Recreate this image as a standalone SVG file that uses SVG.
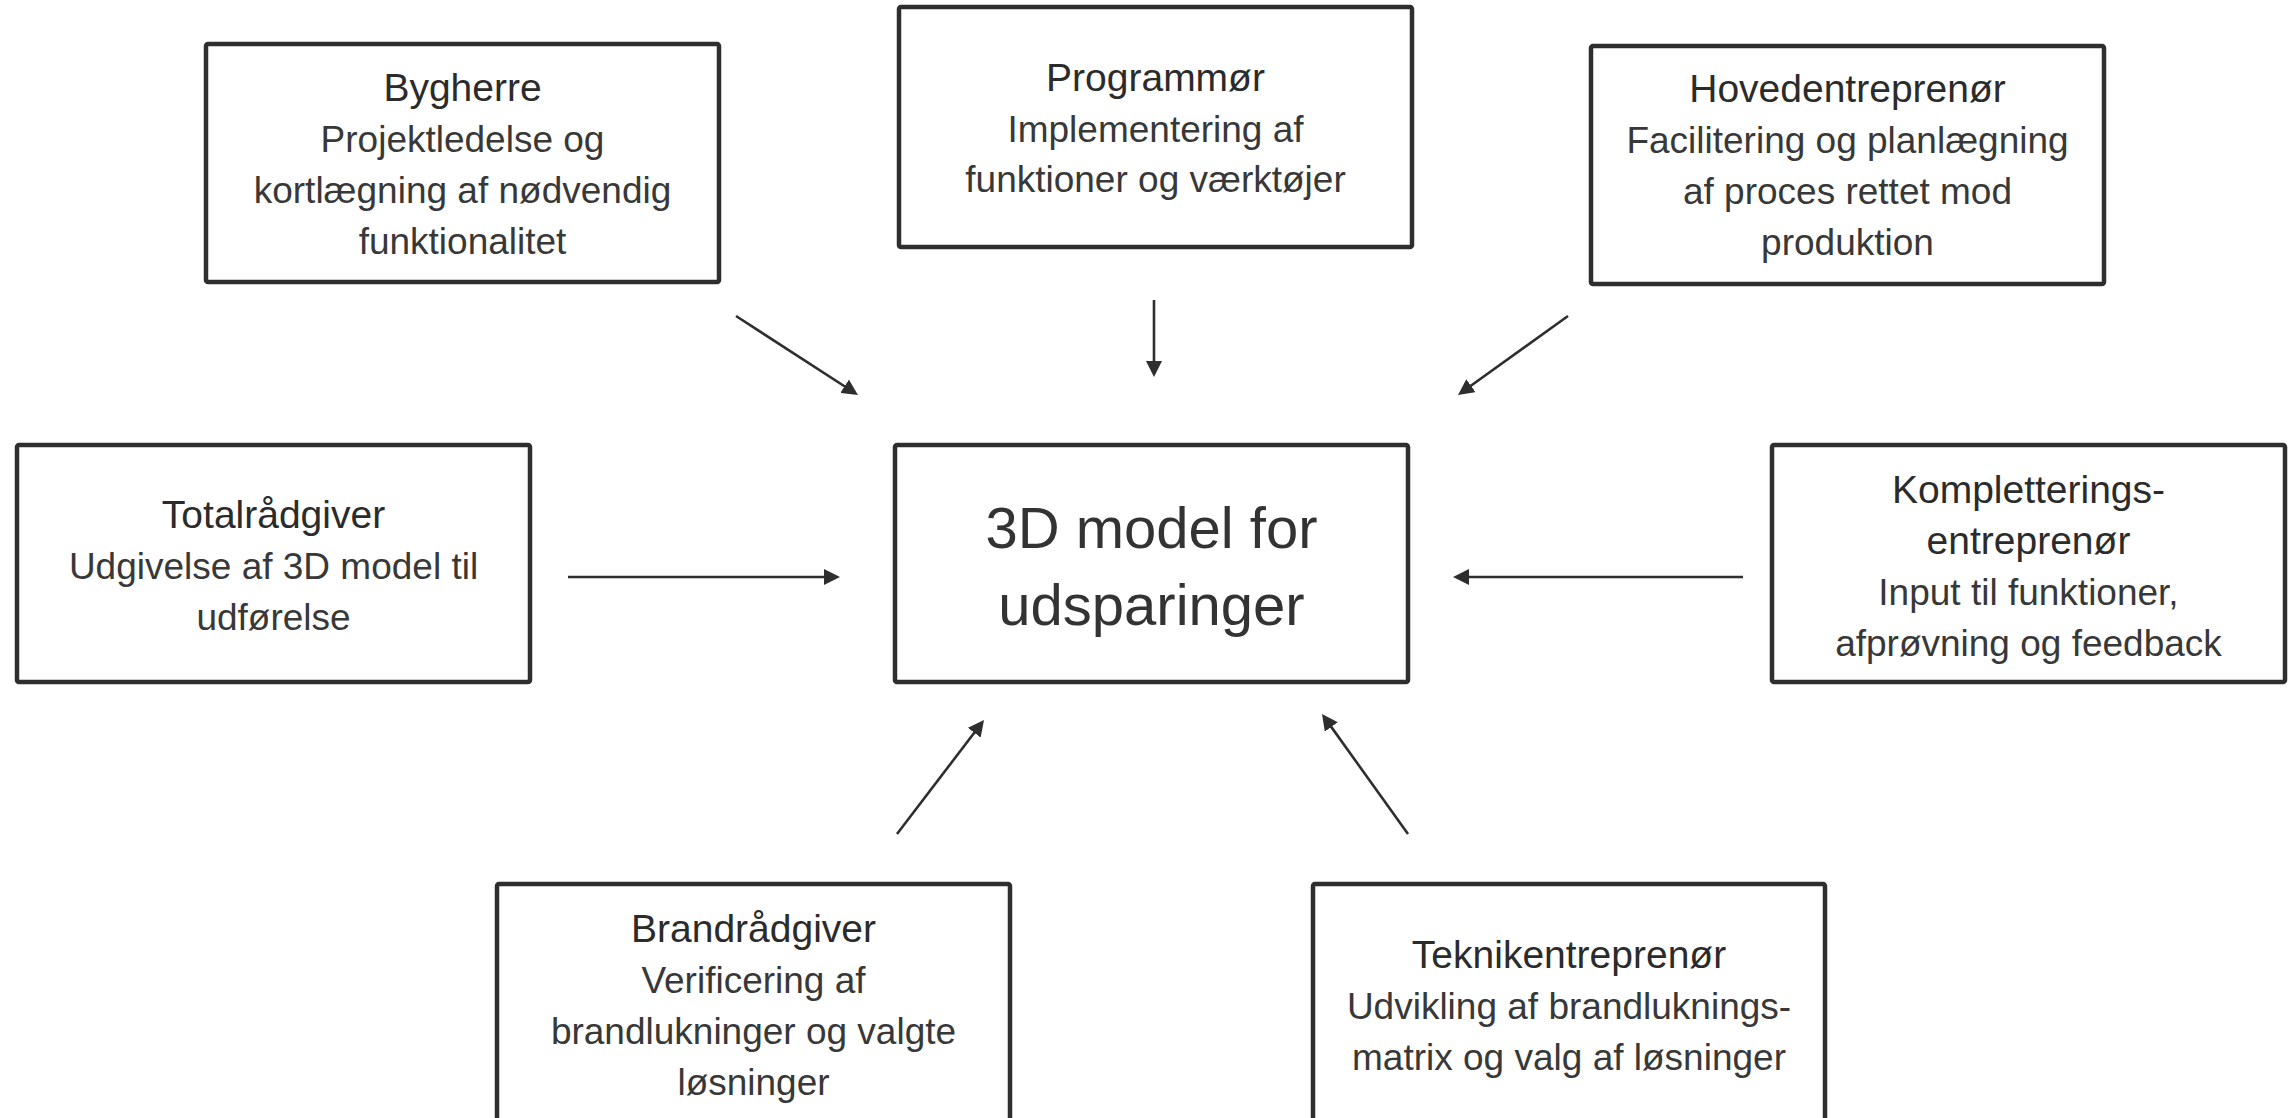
<svg xmlns="http://www.w3.org/2000/svg" width="2293" height="1118" viewBox="0 0 2293 1118">
<style>
.box{fill:#fff;stroke:#2e2e2e;stroke-width:4.5}
.t{font-family:"Liberation Sans",Arial,sans-serif;text-anchor:middle;fill:#2b2b2b}
.h{font-size:39px}
.b{font-size:37px;fill:#383838}
.c{font-size:58px;fill:#333}
.edge{stroke:#2e2e2e;stroke-width:2.6;fill:none;marker-end:url(#ah)}
</style>
<defs>
<marker id="ah" markerUnits="userSpaceOnUse" markerWidth="16" markerHeight="16" refX="10" refY="8" orient="auto">
<path d="M0,0 L16,8 L0,16 z" fill="#2e2e2e"/>
</marker>
</defs>
<rect width="2293" height="1118" fill="#fff"/>
<g id="connectors">
<line class="edge" x1="736" y1="316" x2="852.96" y2="391.74"/>
<line class="edge" x1="1154" y1="300" x2="1154" y2="371"/>
<line class="edge" x1="1568" y1="316" x2="1462.87" y2="391.5"/>
<line class="edge" x1="568" y1="577" x2="834" y2="577"/>
<line class="edge" x1="1743" y1="577" x2="1459" y2="577"/>
<line class="edge" x1="897" y1="834" x2="980.36" y2="724.77"/>
<line class="edge" x1="1408" y1="834" x2="1325.5" y2="718.88"/>
</g>
<g id="bygherre">
<rect class="box" x="206" y="44" width="513" height="238" rx="2"/>
<text class="t h" x="462.5" y="100.5">Bygherre</text>
<text class="t b" x="462.5" y="151.5">Projektledelse og</text>
<text class="t b" x="462.5" y="202.5">kortlægning af nødvendig</text>
<text class="t b" x="462.5" y="253.5">funktionalitet</text>
</g>
<g id="programmoer">
<rect class="box" x="899" y="7" width="513" height="240" rx="2"/>
<text class="t h" x="1155.5" y="90.5">Programmør</text>
<text class="t b" x="1155.5" y="141.5">Implementering af</text>
<text class="t b" x="1155.5" y="192">funktioner og værktøjer</text>
</g>
<g id="hovedentreprenoer">
<rect class="box" x="1591" y="46" width="513" height="238" rx="2"/>
<text class="t h" x="1847.5" y="102">Hovedentreprenør</text>
<text class="t b" x="1847.5" y="153">Facilitering og planlægning</text>
<text class="t b" x="1847.5" y="204">af proces rettet mod</text>
<text class="t b" x="1847.5" y="255">produktion</text>
</g>
<g id="totalraadgiver">
<rect class="box" x="17" y="445" width="513" height="237" rx="2"/>
<text class="t h" x="273.5" y="528">Totalrådgiver</text>
<text class="t b" x="273.5" y="579">Udgivelse af 3D model til</text>
<text class="t b" x="273.5" y="630">udførelse</text>
</g>
<g id="center">
<rect class="box" x="895" y="445" width="513" height="237" rx="2"/>
<text class="t c" x="1151.5" y="548">3D model for</text>
<text class="t c" x="1151.5" y="625">udsparinger</text>
</g>
<g id="kompletteringsentreprenoer">
<rect class="box" x="1772" y="445" width="513" height="237" rx="2"/>
<text class="t h" x="2028.5" y="502.5">Kompletterings-</text>
<text class="t h" x="2028.5" y="553.5">entreprenør</text>
<text class="t b" x="2028.5" y="604.5">Input til funktioner,</text>
<text class="t b" x="2028.5" y="655.5">afprøvning og feedback</text>
</g>
<g id="brandraadgiver">
<rect class="box" x="497" y="884" width="513" height="240" rx="2"/>
<text class="t h" x="753.5" y="941.5">Brandrådgiver</text>
<text class="t b" x="753.5" y="992.5">Verificering af</text>
<text class="t b" x="753.5" y="1043.5">brandlukninger og valgte</text>
<text class="t b" x="753.5" y="1094.5">løsninger</text>
</g>
<g id="teknikentreprenoer">
<rect class="box" x="1313" y="884" width="512" height="240" rx="2"/>
<text class="t h" x="1569" y="967.5">Teknikentreprenør</text>
<text class="t b" x="1569" y="1018.5">Udvikling af brandluknings-</text>
<text class="t b" x="1569" y="1069.5">matrix og valg af løsninger</text>
</g>
</svg>
